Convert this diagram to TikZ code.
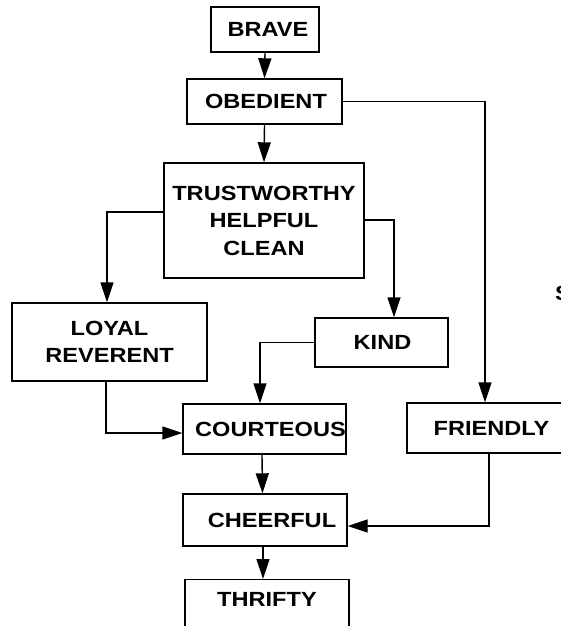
\documentclass[tikz,border=0pt]{standalone}
\usepackage{fontspec}
\newfontfamily\labfont{Liberation Sans}[FakeStretch=1.15]
\usetikzlibrary{arrows.meta}
\begin{document}
\begin{tikzpicture}[x=1pt,y=-1pt,
  box/.style={draw=black, line width=1.4pt, fill=white, inner sep=0pt, align=center,
    font=\labfont\bfseries\fontsize{20.5}{27.5}\selectfont},
  nudge/.style={execute at begin node={\hspace*{#1}}},
  link/.style={draw=black, line width=1.4pt, -{Triangle[length=20pt,width=13pt]}}]
\useasboundingbox (0,0) rectangle (561,626);
\clip (0,0) rectangle (561,626);

% boxes (centre, size in px-sized points)
\node[box, minimum width=108pt, minimum height=45pt, nudge=6pt] (brave) at (265,29.5) {BRAVE};
\node[box, minimum width=155pt, minimum height=45pt, nudge=3pt] (obed) at (264.5,101.5) {OBEDIENT};
\node[box, minimum width=200pt, minimum height=115pt] (trust) at (264,220.5) {TRUSTWORTHY\\HELPFUL\\CLEAN};
\node[box, minimum width=195pt, minimum height=78pt] (loyal) at (109.5,342) {LOYAL\\REVERENT};
\node[box, minimum width=133pt, minimum height=49pt, nudge=2pt] (kind) at (381.5,342.5) {KIND};
\node[box, minimum width=163pt, minimum height=50pt, nudge=12pt] (court) at (264.5,429) {COURTEOUS};
\node[box, minimum width=156pt, minimum height=50pt, nudge=13pt] (friend) at (485,428) {FRIENDLY};
\node[box, minimum width=164pt, minimum height=52pt, nudge=14pt] (cheer) at (265,520) {CHEERFUL};
% last box runs past the lower edge of the page
\node[box, anchor=north, minimum width=164pt, inner ysep=13pt, text depth=60pt] (thrift) at (267,579) {THRIFTY};
\node[anchor=west, inner sep=0pt, font=\labfont\bfseries\fontsize{20.5}{24}\selectfont] (stray) at (555,293) {S};

% connectors
\draw[link] (brave.south) -- (obed.north);
\draw[link] (obed.south) -- (trust.north);
\draw[link] (obed.east) -| (friend.north);
\draw[link] ([yshift=8.5pt]trust.west) -| ([xshift=-2.5pt]loyal.north);
\draw[link] ([yshift=0.5pt]trust.east) -| ([xshift=12.5pt]kind.north);
\draw[link] (kind.west) -| ([xshift=-4.5pt]court.north);
\draw[link] ([xshift=-3.5pt]loyal.south) |- ([yshift=-4pt]court.west);
\draw[link] ([xshift=-2.5pt]court.south) -- ([xshift=-2.5pt]cheer.north);
\draw[link] ([xshift=4pt]friend.south) |- ([yshift=-6pt]cheer.east);
\draw[link] ([xshift=-2pt]cheer.south) -- ([xshift=-4pt]thrift.north);
\end{tikzpicture}
\end{document}
